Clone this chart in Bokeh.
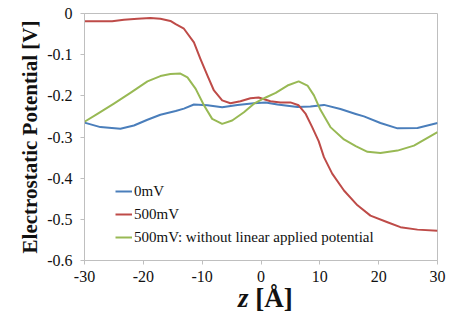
from bokeh.plotting import figure
from bokeh.models import Range1d, FixedTicker, Legend, LegendItem, Div
from bokeh.layouts import column
from bokeh.embed import file_html
from bokeh.resources import INLINE

# ---- data ----
x_0mv = [-30, -27.3, -23.9, -21.6, -19.3, -17.1, -14.5, -13.1, -11.4, -9.1, -6.6, -4.0, -1.2, 0.8, 2.8, 6.2, 8.4, 10.7, 13.5, 16.1, 17.5, 20.3, 23.2, 26.6, 30]
y_0mv = [-0.265, -0.276, -0.280, -0.272, -0.258, -0.246, -0.237, -0.231, -0.221, -0.223, -0.228, -0.222, -0.218, -0.216, -0.221, -0.227, -0.226, -0.222, -0.232, -0.244, -0.250, -0.266, -0.279, -0.278, -0.266]

x_500 = [-30, -25.3, -23.3, -21.0, -18.8, -17.1, -15.4, -14.5, -13.1, -11.4, -10.3, -9.1, -8.0, -6.6, -5.2, -3.5, -1.8, -0.4, 1.6, 3.3, 5.0, 6.4, 7.6, 8.7, 9.8, 10.7, 12.1, 14.1, 16.4, 18.6, 21.5, 23.7, 26.6, 30]
y_500 = [-0.019, -0.019, -0.015, -0.013, -0.011, -0.013, -0.018, -0.026, -0.037, -0.070, -0.110, -0.151, -0.187, -0.211, -0.218, -0.213, -0.206, -0.204, -0.213, -0.216, -0.216, -0.223, -0.244, -0.276, -0.310, -0.349, -0.389, -0.430, -0.466, -0.491, -0.507, -0.519, -0.525, -0.528]

x_500nl = [-30, -27.8, -25, -22.2, -19.3, -17.1, -15.4, -13.7, -12.5, -11.1, -9.7, -8.3, -6.6, -4.9, -2.9, -1.2, 0.8, 2.5, 4.5, 6.4, 7.9, 9.0, 10.1, 11.8, 14.1, 16.1, 18.1, 20.3, 23.2, 26, 30]
y_500nl = [-0.263, -0.244, -0.219, -0.193, -0.165, -0.152, -0.147, -0.146, -0.155, -0.183, -0.223, -0.256, -0.268, -0.260, -0.240, -0.219, -0.204, -0.193, -0.175, -0.165, -0.175, -0.199, -0.234, -0.276, -0.306, -0.322, -0.336, -0.339, -0.333, -0.321, -0.288]

series_names = ["0mV", "500mV", "500mV: without linear applied potential"]
series_colors = ["#4a7ebb", "#be4b48", "#98b954"]

x_ticks = [-30, -20, -10, 0, 10, 20, 30]
x_tick_labels = ["-30", "-20", "-10", "0", "10", "20", "30"]
y_ticks = [0, -0.1, -0.2, -0.3, -0.4, -0.5, -0.6]
y_tick_labels = ["0", "-0.1", "-0.2", "-0.3", "-0.4", "-0.5", "-0.6"]

FONT = "Liberation Serif"

p = figure(width=452, height=290, output_backend="svg", toolbar_location=None,
           x_range=Range1d(-30, 30), y_range=Range1d(-0.6, 0),
           min_border_left=84, min_border_right=15, min_border_top=13, min_border_bottom=30)
p.background_fill_color = "white"
p.border_fill_color = "white"
p.outline_line_color = "#bfbfbf"
p.outline_line_width = 1
p.xgrid.visible = False
p.ygrid.visible = False

for ax in (p.xaxis[0], p.yaxis[0]):
    ax.axis_line_color = "#bfbfbf"
    ax.major_tick_line_color = "#bfbfbf"
    ax.minor_tick_line_color = None
    ax.major_tick_in = 0
    ax.major_tick_out = 4
    ax.major_label_text_font = FONT
    ax.major_label_text_font_size = "16px"
    ax.major_label_text_color = "#111111"

p.xaxis.ticker = FixedTicker(ticks=x_ticks)
p.xaxis.major_label_overrides = {t: l for t, l in zip(x_ticks, x_tick_labels)}
p.xaxis.major_label_standoff = 6
p.xaxis.axis_label = None

p.yaxis.ticker = FixedTicker(ticks=y_ticks)
p.yaxis.major_label_overrides = {t: l for t, l in zip(y_ticks, y_tick_labels)}
p.yaxis.major_label_standoff = 8
p.yaxis.axis_label = "Electrostatic Potential [V]"
p.yaxis.axis_label_text_font = FONT
p.yaxis.axis_label_text_font_style = "bold"
p.yaxis.axis_label_text_font_size = "21px"
p.yaxis.axis_label_text_color = "#111111"
p.yaxis.axis_label_standoff = 2

items = []
for xs, ys, name, col in zip([x_0mv, x_500, x_500nl], [y_0mv, y_500, y_500nl], series_names, series_colors):
    r = p.line(xs, ys, line_color=col, line_width=2, line_join="round")
    items.append(LegendItem(label=name, renderers=[r]))

legend = Legend(items=items, location=(31, 13), border_line_color=None,
                background_fill_alpha=0, padding=0, margin=0, spacing=3,
                glyph_width=17, glyph_height=20, label_height=20, label_standoff=2,
                label_text_font=FONT, label_text_font_size="15px", label_text_color="#111111")
p.add_layout(legend, "center")

# x-axis title: italic "z" followed by upright "[Å]"
xtitle = Div(
    text=('<div style="position:relative; top:-7px; margin-left:238px; white-space:nowrap; '
          'font-family:\'Liberation Serif\'; font-size:27px; font-weight:bold; '
          'line-height:30px; color:#111111;"><i>z</i> [Å]</div>'),
    width=452, height=35, margin=0)

layout = column(p, xtitle, spacing=0)

open("out.html", "w").write(file_html(layout, INLINE))
